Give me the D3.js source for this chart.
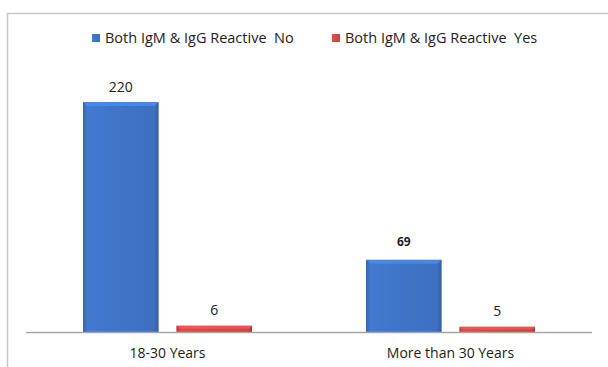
<!DOCTYPE html>
<html>
<head>
<meta charset="utf-8">
<script src="https://cdn.jsdelivr.net/npm/d3@7"></script>
<style>
  html, body { margin: 0; padding: 0; background: #fff; }
  svg { display: block; font-family: "Open Sans", "Liberation Sans", Arial, sans-serif; }
  text { white-space: pre; }
</style>
</head>
<body>
<svg id="chart" width="608" height="367"></svg>
<script>
// Age groups and the two reactivity series
const categories = ["18-30 Years", "More than 30 Years"];
const seriesNames = ["Both IgM & IgG Reactive  No", "Both IgM & IgG Reactive  Yes"];
const reactiveNo = [220, 69];
const reactiveYes = [6, 5];
const seriesColors = ["#3f74c6", "#d84546"];

const svg = d3.select("#chart");
const W = 608, H = 367;
const margin = { left: 26, right: 16 };
const baseY = 332;

// Outer frame (top and left edges visible)
svg.append("path")
  .attr("d", `M7.5,${H} L7.5,13.5 L${W},13.5`)
  .attr("fill", "none").attr("stroke", "#c8c8c8").attr("stroke-width", 1.5);

const x0 = d3.scaleBand().domain(categories).range([margin.left, W - margin.right]);
const groupInset = 57;
const x1 = d3.scaleBand().domain([0, 1])
  .range([groupInset, x0.bandwidth() - groupInset])
  .paddingInner(0.19).paddingOuter(0);
const y = d3.scaleLinear().domain([0, 220]).range([baseY, 102]);

// Gradients giving the bars a bevelled look
const defs = svg.append("defs");
function grad(id, c) {
  const g = defs.append("linearGradient").attr("id", id).attr("x1", 0).attr("x2", 1).attr("y1", 0).attr("y2", 0);
  const base = d3.color(c);
  g.append("stop").attr("offset", 0).attr("stop-color", base.darker(0.4));
  g.append("stop").attr("offset", 0.06).attr("stop-color", base.brighter(0.15));
  g.append("stop").attr("offset", 0.5).attr("stop-color", base);
  g.append("stop").attr("offset", 0.94).attr("stop-color", base.darker(0.1));
  g.append("stop").attr("offset", 1).attr("stop-color", base.darker(0.6));
}
grad("g0", seriesColors[0]);
grad("g1", seriesColors[1]);

const data = categories.map((c, i) => ({ cat: c, vals: [reactiveNo[i], reactiveYes[i]] }));

const groups = svg.selectAll("g.grp").data(data).join("g")
  .attr("class", "grp")
  .attr("transform", d => `translate(${x0(d.cat)},0)`);

groups.each(function (d) {
  const g = d3.select(this);
  d.vals.forEach((v, s) => {
    const bx = x1(s), bw = x1.bandwidth();
    const top = y(v), h = baseY - top;
    g.append("rect")
      .attr("x", bx).attr("y", top).attr("width", bw).attr("height", h)
      .attr("fill", `url(#g${s})`);
    // top bevel highlight
    const bev = Math.min(4, h / 2);
    g.append("path")
      .attr("d", `M${bx},${top} L${bx + bw},${top} L${bx + bw - bev},${top + bev} L${bx + bev},${top + bev} Z`)
      .attr("fill", d3.color(seriesColors[s]).brighter(0.5)).attr("opacity", 0.8);
  });
});

// Baseline
svg.append("line")
  .attr("x1", margin.left).attr("x2", W - margin.right)
  .attr("y1", baseY + 0.5).attr("y2", baseY + 0.5)
  .attr("stroke", "#a6a6a6").attr("stroke-width", 1.3);

// Value labels
groups.each(function (d, i) {
  const g = d3.select(this);
  d.vals.forEach((v, s) => {
    const bold = (i === 1 && s === 0);
    g.append("text")
      .attr("x", x1(s) + x1.bandwidth() / 2)
      .attr("y", y(v) - (s === 0 ? (bold ? 14 : 10) : 11))
      .attr("text-anchor", "middle")
      .attr("font-size", bold ? 12 : 14)
      .attr("font-weight", bold ? "bold" : "normal")
      .attr("fill", "#222")
      .text(v);
  });
});

// Category axis labels
svg.selectAll("text.cat").data(categories).join("text")
  .attr("class", "cat")
  .attr("x", d => x0(d) + x0.bandwidth() / 2)
  .attr("y", 358)
  .attr("text-anchor", "middle")
  .attr("font-size", 14)
  .attr("fill", "#222")
  .text(d => d);

// Legend
const legendX = [92, 332];
const leg = svg.selectAll("g.leg").data(seriesNames).join("g")
  .attr("class", "leg")
  .attr("transform", (d, i) => `translate(${legendX[i]},34)`);
leg.append("rect").attr("width", 8).attr("height", 8)
  .attr("fill", (d, i) => `url(#g${i})`);
leg.append("text").attr("x", 13).attr("y", 9)
  .attr("font-size", 14.5).attr("fill", "#222")
  .text(d => d);
</script>
</body>
</html>
